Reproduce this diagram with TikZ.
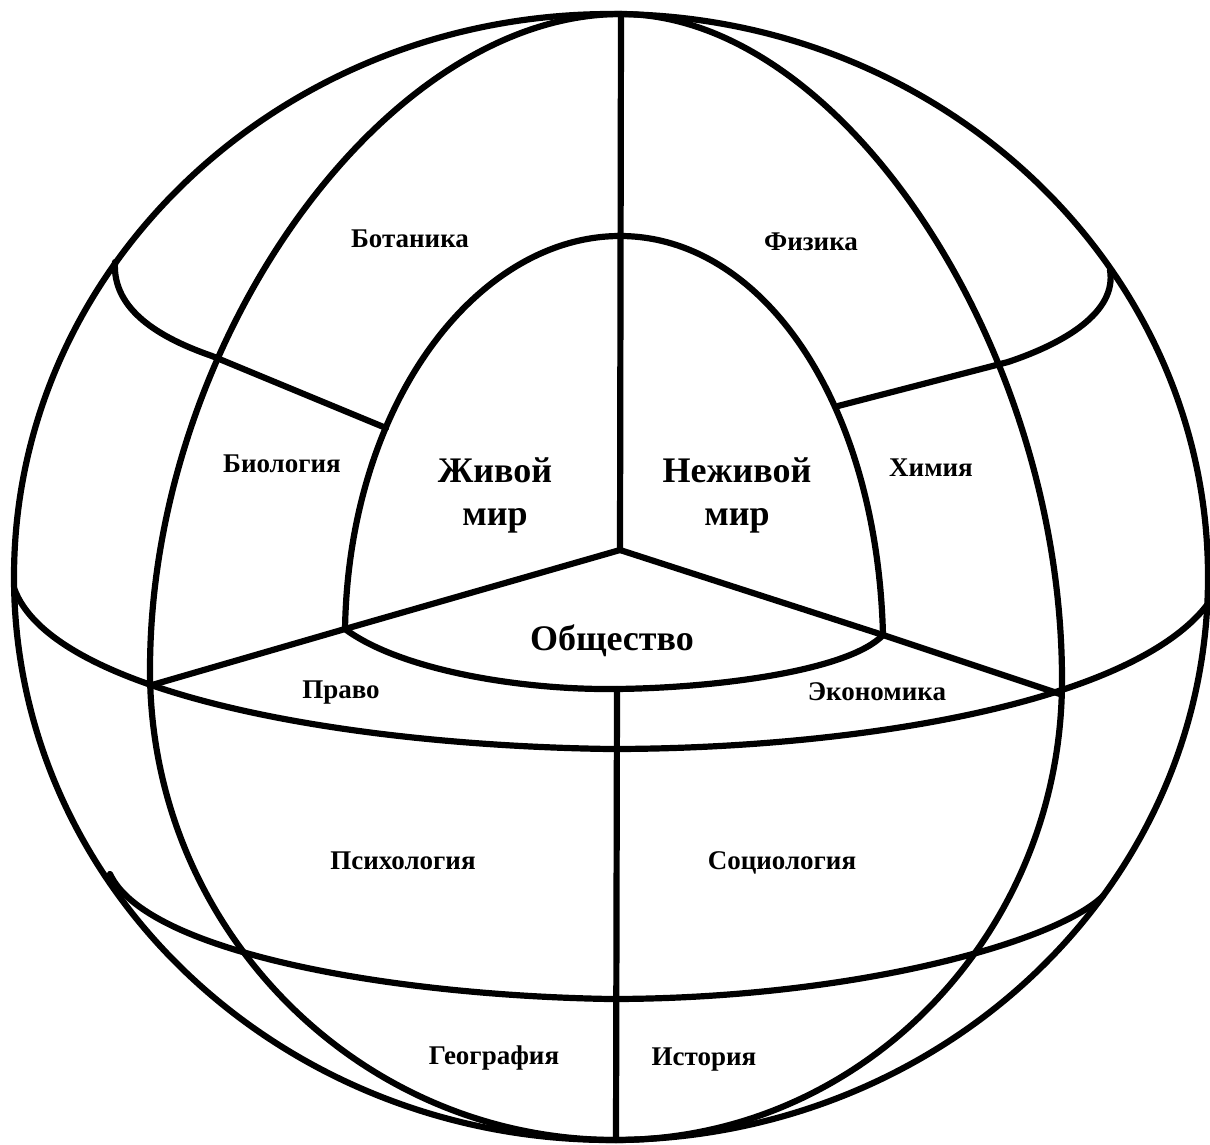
\documentclass[tikz,border=0pt]{standalone}
\usepackage{fontspec}
\setmainfont{Liberation Serif}
\begin{document}
\begin{tikzpicture}[x=1pt,y=-1pt,
  line width=6.2pt, line join=round, line cap=round,
  lbl/.style={font=\bfseries\fontsize{27}{29}\selectfont, anchor=base, inner sep=0pt},
  big/.style={font=\bfseries\fontsize{36}{39}\selectfont, anchor=base, inner sep=0pt}]
\useasboundingbox (0,0) rectangle (1210,1144);
% key points
\coordinate (top) at (621,14);
\coordinate (bot) at (616,1140);
\coordinate (hub) at (620,550);
\coordinate (lc) at (152,685);
\coordinate (rc) at (1060,694);
\coordinate (dl) at (345,629);
\coordinate (dr) at (883,635);
\coordinate (sb) at (617,689);
\coordinate (domeT) at (620,236);
% outer sphere
\draw (611,577) ellipse [x radius=597, y radius=563];
% meridians
\draw (top) .. controls (385,14) and (150,342) .. (150,670)
            .. controls (150,929) and (359,1140) .. (bot);
\draw (top) .. controls (841,14) and (1062,347) .. (1062,680)
            .. controls (1062,934) and (862,1140) .. (bot);
% equator
\draw (14,588) .. controls (50,690) and (330,745) .. (610,749)
               .. controls (850,749) and (1130,705) .. (1207,605);
% lower latitude
\draw (110,874) .. controls (145,950) and (380,995) .. (610,999)
                .. controls (850,999) and (1055,943) .. (1103,896);
% upper latitudes
\draw (115,262) .. controls (112,310) and (160,338) .. (212,356) -- (386,428);
\draw (1110,270) .. controls (1117,312) and (1065,343) .. (1008,362) -- (838,406);
% inner dome
\draw (dl) .. controls (349,400) and (479,236) .. (domeT)
      .. controls (761,236) and (877,400) .. (dr);
% society arc
\draw (dl) .. controls (400,670) and (520,690) .. (615,689) .. controls (720,688) and (850,670) .. (dr);
% triangle and axis
\draw (lc) -- (dl) -- (hub) -- (dr) -- (rc);
\draw (top) -- (hub);
\draw (sb) -- (bot);
% labels
\node[lbl] (bot1) at (410,247) {Ботаника};
\node[lbl] (fiz) at (811,250) {Физика};
\node[lbl] (bio) at (282,472) {Биология};
\node[lbl] (him) at (931,476) {Химия};
\node[big] (zh1) at (495,482) {Живой};
\node[big] (zh2) at (495,525) {мир};
\node[big] (nz1) at (737,482) {Неживой};
\node[big] (nz2) at (737,525) {мир};
\node[big] (obs) at (612,650) {Общество};
\node[lbl] (pra) at (341,698) {Право};
\node[lbl] (eco) at (877,700) {Экономика};
\node[lbl] (psy) at (403,869) {Психология};
\node[lbl] (soc) at (782,869) {Социология};
\node[lbl] (geo) at (494,1064) {География};
\node[lbl] (ist) at (704,1065) {История};
\end{tikzpicture}
\end{document}
